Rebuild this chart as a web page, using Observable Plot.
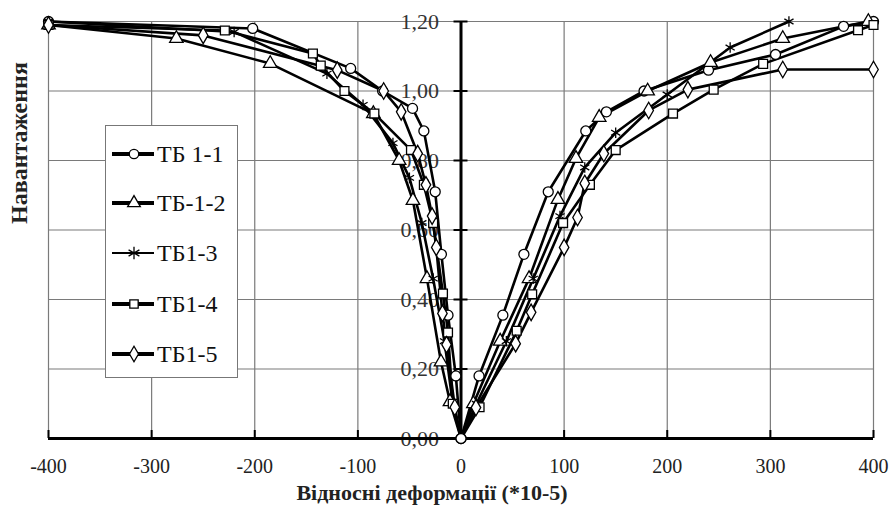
<!DOCTYPE html>
<html>
<head>
<meta charset="utf-8">
<script src="https://cdn.jsdelivr.net/npm/d3@7"></script>
<script src="https://cdn.jsdelivr.net/npm/@observablehq/plot@0.6"></script>
<style>
  body { margin: 0; background: #fff; }
  #wrap { position: relative; width: 890px; height: 515px; font-family: "Liberation Serif", "Times New Roman", "DejaVu Serif", serif; }
  #wrap svg, #wrap svg text { font-family: "Liberation Serif", "Times New Roman", "DejaVu Serif", serif !important; }
  #legend { position: absolute; left: 105px; top: 125px; width: 133px; height: 253px; box-sizing: border-box;
            border: 1px solid #777; background: #fff; }
  .entry { position: absolute; left: 0; height: 24px; display: flex; align-items: center; }
  .entry span { font-size: 24px; color: #111; margin-left: 1px; font-family: "Liberation Serif", "Times New Roman", "DejaVu Serif", serif; }
</style>
</head>
<body>
<div id="wrap"></div>
<script>
// ---- data ----
const seriesNames = ["ТБ 1-1", "ТБ-1-2", "ТБ1-3", "ТБ1-4", "ТБ1-5"];
const seriesSymbols = ["circle", "triangle", "asterisk", "square", "diamond"];

// [strain (*10-5), load] pairs, compression (negative) branch
const tb11Neg = [[0,0],[-5,0.18],[-12.6,0.355],[-19,0.53],[-25,0.71],[-36,0.885],[-47,0.95],[-76,1.0],[-107,1.065],[-202,1.18],[-400,1.2]];
const tb12Neg = [[0,0],[-10.7,0.106],[-19.4,0.22],[-33,0.46],[-46.6,0.685],[-60,0.80],[-85,0.935],[-185,1.079],[-276,1.151],[-400,1.19]];
const tb13Neg = [[0,0],[-8,0.1],[-16,0.28],[-27,0.46],[-38,0.62],[-50,0.75],[-66,0.85],[-95,0.96],[-130,1.05],[-220,1.17],[-400,1.2]];
const tb14Neg = [[0,0],[-8,0.1],[-12.6,0.305],[-17.5,0.417],[-27,0.62],[-36,0.73],[-48.5,0.83],[-84,0.935],[-113,1.0],[-136,1.073],[-143.6,1.108],[-229,1.174],[-400,1.19]];
const tb15Neg = [[0,0],[-6,0.09],[-14,0.27],[-18,0.36],[-24,0.55],[-28,0.64],[-34,0.73],[-42,0.82],[-58,0.94],[-75,1.0],[-120,1.06],[-250,1.16],[-400,1.19]];

// tension (positive) branch
const tb11Pos = [[0,0],[17.5,0.18],[40.6,0.355],[61,0.53],[84.6,0.71],[121,0.885],[141,0.94],[177.5,1.0],[240,1.06],[305,1.105],[371,1.186],[400,1.2]];
const tb12Pos = [[0,0],[12,0.1],[38,0.28],[66,0.46],[94,0.688],[111.5,0.806],[134,0.924],[181,1.0],[242,1.082],[312,1.151],[395,1.2]];
const tb13Pos = [[0,0],[15,0.1],[44,0.28],[70,0.46],[96,0.64],[120,0.78],[150,0.88],[200,0.99],[261,1.125],[318,1.2]];
const tb14Pos = [[0,0],[18,0.09],[54,0.31],[69,0.415],[99,0.62],[125,0.73],[150,0.83],[205.6,0.935],[245,1.004],[293,1.078],[385,1.175],[400,1.19]];
const tb15Pos = [[0,0],[14.5,0.089],[53,0.273],[68,0.363],[100,0.55],[113,0.636],[120,0.734],[138.5,0.82],[182,0.944],[220,1.004],[312,1.062],[400,1.062]];

const xTicks = [-400, -300, -200, -100, 0, 100, 200, 300, 400];
const yTicks = [0, 0.2, 0.4, 0.6, 0.8, 1.0, 1.2];
const xTitle = "Відносні деформації (*10-5)";
const yTitle = "Навантаження";

// ---- build table ----
const negBranches = [tb11Neg, tb12Neg, tb13Neg, tb14Neg, tb15Neg];
const posBranches = [tb11Pos, tb12Pos, tb13Pos, tb14Pos, tb15Pos];
const rows = [];
seriesNames.forEach((name, i) => {
  negBranches[i].forEach(([x, y]) => rows.push({series: name, branch: "neg", x, y}));
  posBranches[i].forEach(([x, y]) => rows.push({series: name, branch: "pos", x, y}));
});
const symbolOf = Object.fromEntries(seriesNames.map((n, i) => [n, seriesSymbols[i]]));
const fmtY = d => d.toFixed(2).replace(".", ",");
const serif = "Liberation Serif, Times New Roman, DejaVu Serif, serif";

const chart = Plot.plot({
  width: 890,
  height: 515,
  marginTop: 21,
  marginRight: 17,
  marginBottom: 77,
  marginLeft: 48,
  style: {fontFamily: serif, background: "#fff", overflow: "visible"},
  x: {domain: [-400, 400], axis: null},
  y: {domain: [0, 1.2], axis: null},
  symbol: {domain: seriesNames, range: seriesSymbols},
  marks: [
    Plot.gridX(xTicks, {stroke: "#7a7a7a", strokeOpacity: 1, strokeWidth: 1.2}),
    Plot.gridY(yTicks, {stroke: "#7a7a7a", strokeOpacity: 1, strokeWidth: 1.2}),
    Plot.axisX({ticks: xTicks, tickSize: 0, tickPadding: 20, fontSize: 20, tickFormat: d => String(d), label: null, color: "#222"}),
    Plot.text(yTicks, {x: 0, y: d => d, text: fmtY, textAnchor: "end", dx: -22, fontSize: 22, fill: "#333"}),
    Plot.ruleY([0], {stroke: "#000", strokeWidth: 3}),
    Plot.ruleX([0], {stroke: "#000", strokeWidth: 3}),
    Plot.ruleX(xTicks, {x: d => d, y1: 0, y2: 0, insetTop: -8, stroke: "#000", strokeWidth: 2}),
    Plot.ruleY(yTicks, {y: d => d, x1: 0, x2: 0, insetLeft: -7, insetRight: -7, stroke: "#000", strokeWidth: 2}),
    Plot.line(rows, {x: "x", y: "y", z: d => d.series + d.branch, stroke: "#000", strokeWidth: 2.6}),
    Plot.dot(rows.filter(d => !(d.x === 0 && d.y === 0) || d.series === seriesNames[0]), {
      x: "x", y: "y", symbol: d => d.series, r: 5, fill: d => symbolOf[d.series] === "asterisk" ? "none" : "#fff",
      stroke: "#000", strokeWidth: 1.3
    }),
    Plot.text([yTitle], {frameAnchor: "left", dx: -29, dy: -6, rotate: -90, fontWeight: "bold", fontSize: 24, fill: "#222"}),
    Plot.text([xTitle], {frameAnchor: "bottom", dx: -29, dy: 61, fontWeight: "bold", fontSize: 22, fill: "#222"})
  ]
});

const wrap = document.getElementById("wrap");
wrap.appendChild(chart);

// ---- legend (HTML overlay) ----
const legend = document.createElement("div");
legend.id = "legend";
const entryTops = [16, 65, 115, 166, 216];
const ns = "http://www.w3.org/2000/svg";
function symbolSvg(sym) {
  const svg = document.createElementNS(ns, "svg");
  svg.setAttribute("width", 50); svg.setAttribute("height", 24);
  const line = document.createElementNS(ns, "line");
  line.setAttribute("x1", 6); line.setAttribute("x2", 48); line.setAttribute("y1", 12); line.setAttribute("y2", 12);
  line.setAttribute("stroke", "#000"); line.setAttribute("stroke-width", sym === "asterisk" ? 2 : 4);
  svg.appendChild(line);
  const p = document.createElementNS(ns, "path");
  const s = d3.symbol({circle: d3.symbolCircle, triangle: d3.symbolTriangle, asterisk: d3.symbolAsterisk, square: d3.symbolSquare, diamond: d3.symbolDiamond}[sym], sym === "asterisk" ? 110 : 70)();
  p.setAttribute("d", s);
  p.setAttribute("transform", "translate(28,12)");
  p.setAttribute("fill", sym === "asterisk" ? "none" : "#fff");
  p.setAttribute("stroke", "#000"); p.setAttribute("stroke-width", 1.3);
  svg.appendChild(p);
  return svg;
}
seriesNames.forEach((name, i) => {
  const e = document.createElement("div");
  e.className = "entry";
  e.style.top = entryTops[i] + "px";
  e.appendChild(symbolSvg(seriesSymbols[i]));
  const t = document.createElement("span");
  t.textContent = name;
  e.appendChild(t);
  legend.appendChild(e);
});
wrap.appendChild(legend);
</script>
</body>
</html>
